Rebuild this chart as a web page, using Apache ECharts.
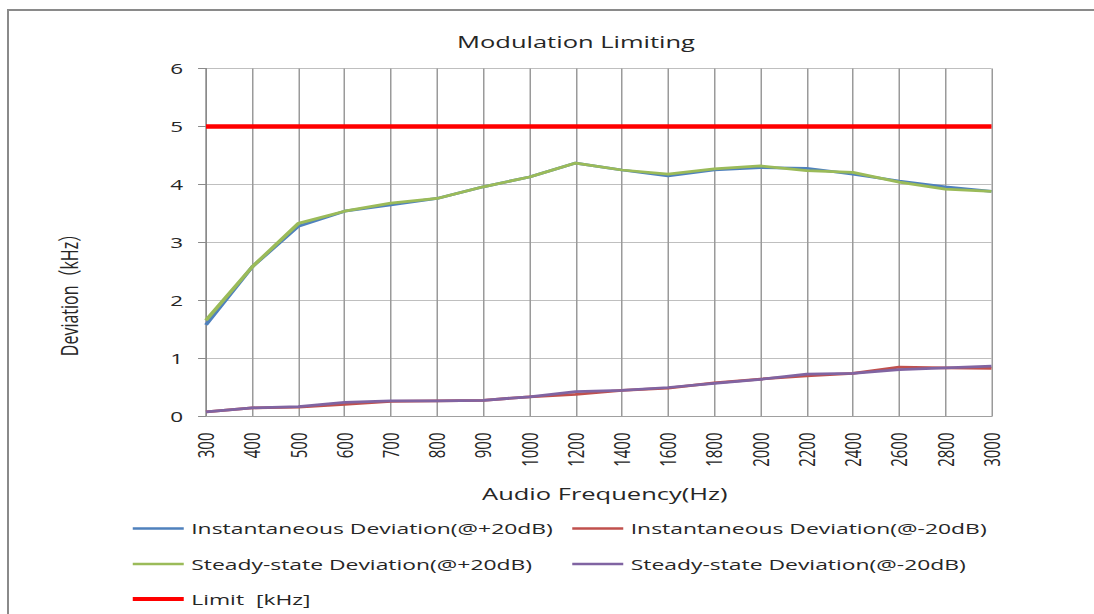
<!DOCTYPE html>
<html><head><meta charset="utf-8">
<script src="https://cdn.jsdelivr.net/npm/echarts@6/dist/echarts.min.js"></script>
<style>
html,body{margin:0;padding:0;background:#fff;overflow:hidden;width:1094px;height:614px;}
#frame{position:absolute;left:7px;top:9px;width:1200px;height:700px;border-left:2px solid #8a8a8a;border-top:2px solid #8a8a8a;}
#main{position:absolute;left:0;top:0;width:729.33px;height:614px;transform:scaleX(1.5);transform-origin:0 0;}
</style></head><body>
<div id="frame"></div><div id="main"></div>
<script>
const chartTitle = 'Modulation Limiting';
const xAxisName = 'Audio Frequency(Hz)';
const yAxisName = 'Deviation（kHz）';
const categories = ['300','400','500','600','700','800','900','1000','1200','1400','1600','1800','2000','2200','2400','2600','2800','3000'];
const instPlus    = [1.58, 2.58, 3.28, 3.54, 3.65, 3.76, 3.96, 4.13, 4.37, 4.25, 4.15, 4.25, 4.29, 4.28, 4.18, 4.06, 3.96, 3.88];
const instMinus   = [0.08, 0.15, 0.16, 0.21, 0.26, 0.27, 0.28, 0.34, 0.38, 0.45, 0.49, 0.58, 0.645, 0.70, 0.745, 0.85, 0.84, 0.83];
const steadyPlus  = [1.66, 2.58, 3.33, 3.54, 3.68, 3.76, 3.96, 4.13, 4.37, 4.25, 4.18, 4.27, 4.32, 4.24, 4.21, 4.04, 3.92, 3.88];
const steadyMinus = [0.08, 0.15, 0.17, 0.245, 0.27, 0.27, 0.28, 0.34, 0.43, 0.45, 0.50, 0.57, 0.64, 0.73, 0.745, 0.81, 0.84, 0.87];
const limit       = [5, 5, 5, 5, 5, 5, 5, 5, 5, 5, 5, 5, 5, 5, 5, 5, 5, 5];
const seriesNames = ['Instantaneous Deviation(@+20dB)','Instantaneous Deviation(@-20dB)','Steady-state Deviation(@+20dB)','Steady-state Deviation(@-20dB)','Limit  [kHz]'];
const seriesColors = ['#4F81BD','#C0504D','#9BBB59','#8064A2','#FF0000'];
const seriesData = [instPlus, instMinus, steadyPlus, steadyMinus, limit];

const FONT = "'Open Sans', 'Noto Sans', 'Noto Sans CJK SC', sans-serif";
const TXT = '#262626';
const chart = echarts.init(document.getElementById('main'), null, {renderer:'svg'});

function leg(i, left, center, h){
  return {data:[seriesNames[i]], left:left, top:center-9, padding:0, icon:'rect',
    itemWidth:34, itemHeight:h, selectedMode:false,
    textStyle:{fontSize:15.25, color:TXT, fontFamily:FONT, lineHeight:18}};
}

const option = {
  animation:false,
  textStyle:{fontFamily:FONT},
  grid:{left:137.33, right:68, top:68.5, bottom:197.5},
  graphic:[
    {type:'text', x:384, y:41, style:{text:chartTitle, fontSize:17, fontFamily:FONT, fill:TXT, align:'center', verticalAlign:'middle'}},
    {type:'text', x:45.5, y:291, rotation:Math.PI/2, style:{text:yAxisName, fontSize:16, fontFamily:FONT, fill:TXT, align:'center', verticalAlign:'middle'}}
  ],
  legend:[
    leg(0, 88.5, 528.5, 2.5), leg(1, 381.5, 528.5, 2.5),
    leg(2, 88.5, 564, 2.5), leg(3, 381.5, 564, 2.5),
    leg(4, 88.5, 599, 4)
  ],
  xAxis:{type:'category', data:categories, boundaryGap:false,
    axisLine:{show:true, lineStyle:{color:'#a0a0a0', width:1}},
    axisTick:{show:false},
    axisLabel:{interval:0, rotate:90, margin:16, fontSize:15, color:TXT, fontFamily:FONT},
    splitLine:{show:true, interval:0, lineStyle:{color:'#9a9a9a', width:1}},
    name:xAxisName, nameLocation:'middle', nameGap:68,
    nameTextStyle:{fontSize:17, color:TXT, fontFamily:FONT, padding:[0,0,0,8]}
  },
  yAxis:{type:'value', min:0, max:6, interval:1,
    axisLine:{show:true, lineStyle:{color:'#8a8a8a'}},
    axisTick:{show:true, length:5.3, lineStyle:{color:'#8a8a8a'}},
    axisLabel:{margin:15.3, fontSize:15, color:TXT, fontFamily:FONT},
    splitLine:{show:true, lineStyle:{color:'#bfbfbf'}}
  },
  series: seriesNames.map((n,i)=>({
    name:n, type:'line', data:seriesData[i], symbol:'none', showSymbol:false,
    lineStyle:{width: i===4 ? 4.5 : 2.75, color:seriesColors[i]},
    itemStyle:{color:seriesColors[i]},
    emphasis:{disabled:true}
  }))
};
chart.setOption(option);
</script>
</body></html>
